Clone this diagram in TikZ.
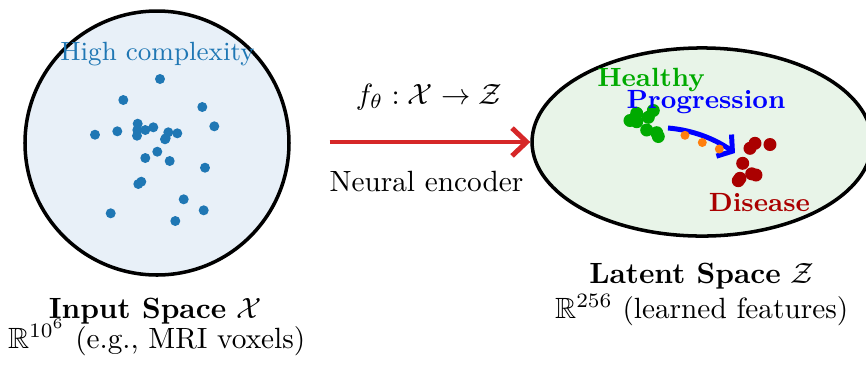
\documentclass[tikz,border=0pt]{standalone}
\usepackage{amssymb}
\usetikzlibrary{shapes, arrows.meta, shapes.geometric}

\definecolor{tabblue}{RGB}{31,119,180}
\definecolor{tabred}{RGB}{214,39,40}
\definecolor{taborange}{RGB}{255,127,14}
\definecolor{healthygreen}{RGB}{0,170,0}
\definecolor{diseasered}{RGB}{170,0,0}
\definecolor{inputfill}{RGB}{232,240,248}
\definecolor{latentfill}{RGB}{232,244,232}

\begin{document}
\begin{tikzpicture}[x=0.3413pt, y=-0.3413pt]
            \tikzstyle{space} = [draw, line width=1.2pt, inner sep=0pt]
            \tikzstyle{caption} = [inner sep=0pt, anchor=base, font=\fontsize{10}{12}\selectfont]
            \tikzstyle{group} = [inner sep=0pt, anchor=base west, font=\fontsize{9}{11}\selectfont\bfseries]
            \tikzstyle{encarrow} = [draw=tabred, line width=1.7pt, -{Straight Barb[length=5pt, width=9.5pt]}]
            \tikzstyle{progarrow} = [draw=blue, line width=1.7pt, -{Straight Barb[length=3.5pt, width=9pt]}]

            \clip (0,0) rectangle (866,365);

            % the two spaces
            \node[space, circle, fill=inputfill, minimum size=90.1pt] (input) at (157,143) {};
            \node[space, ellipse, fill=latentfill, minimum width=116pt, minimum height=64.2pt] (latent) at (702,142) {};

            % input samples
            \node[caption, font=\fontsize{9}{11}\selectfont, text=tabblue] (complexity) at (157.5,60.7) {High complexity};
            \foreach \x/\y in {160/79, 123.3/100, 202.3/107, 214.3/126.3, 95/134.7, 117.3/131.3,
                               137.7/123.7, 137.3/130, 137/135.7, 145.3/130, 153.3/127.3, 168.3/132.3,
                               177.3/133.3, 165.7/138.3, 165/139.3, 157.3/151.7, 145.3/158, 169.7/161,
                               205/167.7, 141.3/181.7, 138.3/184, 183.7/199.3, 110.7/213.3, 203.7/210.3, 175.3/221}
                \fill[tabblue] (\x,\y) circle (5);

            % encoder
            \draw[encarrow, shorten <=13.3pt] (input.east |- latent.west) -- (latent.west);
            \node[caption] (fmap) at (429,104) {$f_\theta : \mathcal{X} \to \mathcal{Z}$};
            \node[caption] (encoder) at (426.5,191.7) {Neural encoder};

            % latent groups
            \foreach \x/\y in {636.7/113.3, 653.3/110.5, 630/120.5, 636.7/121.7, 648.3/117.3, 646.7/130, 656.7/132.7, 658.3/136.5}
                \fill[healthygreen] (\x,\y) circle (6.5);
            \foreach \x/\y in {750/148.3, 755/143.3, 770/144.5, 742.7/163.3, 751.7/173.8, 756/175, 738.3/180.7, 740/178.3}
                \fill[diseasered] (\x,\y) circle (6.5);
            \coordinate (progstart) at (668,128);
            \coordinate (progend) at (735,153);
            \draw[progarrow] (progstart) .. controls (692,130) and (714,138.4) .. (progend);
            \foreach \x/\y in {685/135.3, 702.3/142.5, 719.3/149}
                \fill[taborange] (\x,\y) circle (4.5);
            \node[group, text=healthygreen] (healthy) at (596.7,86.7) {Healthy};
            \node[group, text=blue] (progression) at (626,108.3) {Progression};
            \node[group, text=diseasered] (disease) at (708.3,211.7) {Disease};

            % captions
            \node[caption] (intitle) at (155,318.3) {\textbf{Input Space} $\mathcal{X}$};
            \node[caption] (indim) at (156.7,348.3) {$\mathbb{R}^{10^6}$ (e.g., MRI voxels)};
            \node[caption] (lattitle) at (701.7,283.3) {\textbf{Latent Space} $\mathcal{Z}$};
            \node[caption] (latdim) at (701.7,318.3) {$\mathbb{R}^{256}$ (learned features)};
        \end{tikzpicture}
\end{document}
